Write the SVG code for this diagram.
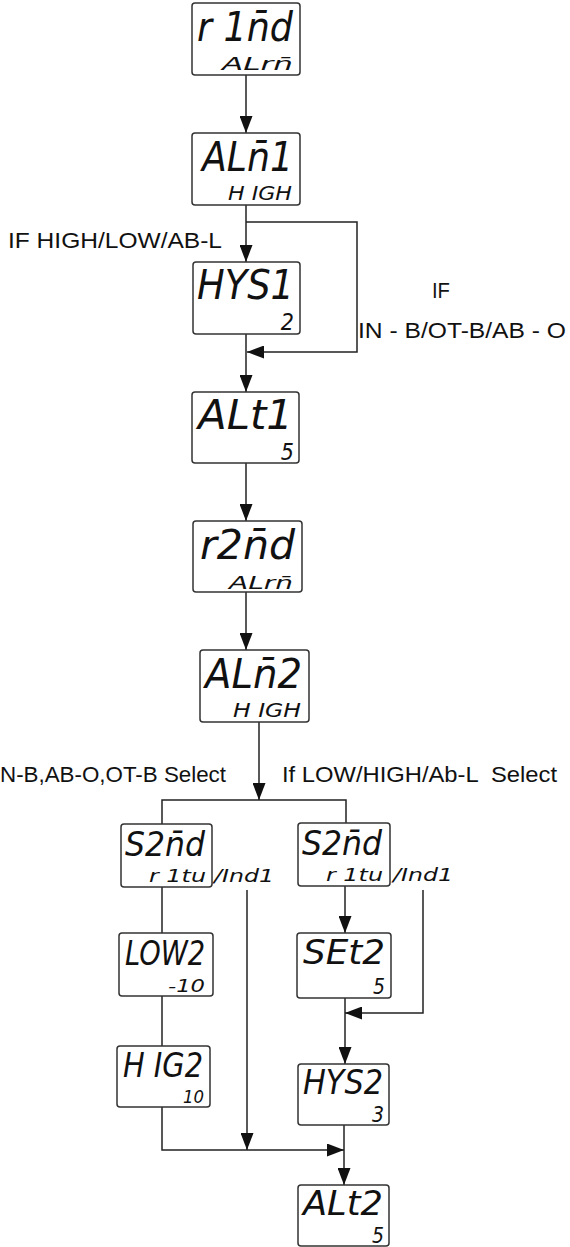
<svg xmlns="http://www.w3.org/2000/svg" width="570" height="1247" viewBox="0 0 570 1247">
<style>
.box{fill:#fff;stroke:#333;stroke-width:1.5}
.ln{fill:none;stroke:#222;stroke-width:1.5}
.d{font-family:"DejaVu Sans ExtraLight","DejaVu Sans Condensed","DejaVu Sans",sans-serif;font-style:italic;font-weight:300;fill:#111}
.lbl{font-family:"Liberation Sans",Arial,sans-serif;font-size:22px;fill:#111}
</style>
<defs>
<marker id="ah" viewBox="0 0 17 13" refX="17" refY="6.5" markerWidth="17" markerHeight="13" markerUnits="userSpaceOnUse" orient="auto">
<path d="M0,0 L17,6.5 L0,13 z" fill="#111"/>
</marker>
</defs>
<g id="connectors">
<line class="ln" x1="246" y1="75" x2="246" y2="133" marker-end="url(#ah)"/>
<line class="ln" x1="246" y1="205" x2="246" y2="262" marker-end="url(#ah)"/>
<polyline class="ln" points="246,222 357,222 357,352 247,352" marker-end="url(#ah)"/>
<line class="ln" x1="246" y1="334" x2="246" y2="392" marker-end="url(#ah)"/>
<line class="ln" x1="246" y1="463" x2="246" y2="521" marker-end="url(#ah)"/>
<line class="ln" x1="246" y1="592" x2="246" y2="650" marker-end="url(#ah)"/>
<line class="ln" x1="259" y1="722" x2="259" y2="800" marker-end="url(#ah)"/>
<polyline class="ln" points="162,824 162,800 346,800 346,823"/>
<line class="ln" x1="162" y1="887" x2="162" y2="933"/>
<line class="ln" x1="247" y1="890" x2="247" y2="1150" marker-end="url(#ah)"/>
<line class="ln" x1="162" y1="996" x2="162" y2="1046"/>
<polyline class="ln" points="162,1107 162,1150 344,1150" marker-end="url(#ah)"/>
<line class="ln" x1="345" y1="886" x2="345" y2="933" marker-end="url(#ah)"/>
<polyline class="ln" points="423,890 423,1013 345,1013" marker-end="url(#ah)"/>
<line class="ln" x1="345" y1="998" x2="345" y2="1064" marker-end="url(#ah)"/>
<line class="ln" x1="344" y1="1125" x2="344" y2="1185" marker-end="url(#ah)"/>
</g>
<g id="labels">
<text class="lbl" x="8" y="248" textLength="214" lengthAdjust="spacingAndGlyphs">IF HIGH/LOW/AB-L</text>
<text class="lbl" x="432" y="298" textLength="18" lengthAdjust="spacingAndGlyphs">IF</text>
<text class="lbl" x="358" y="338" textLength="208" lengthAdjust="spacingAndGlyphs">IN - B/OT-B/AB - O</text>
<text class="lbl" x="0" y="782" textLength="226" lengthAdjust="spacingAndGlyphs">N-B,AB-O,OT-B Select</text>
<text class="lbl" x="282" y="782" textLength="275" lengthAdjust="spacingAndGlyphs" xml:space="preserve">If LOW/HIGH/Ab-L  Select</text>
</g>
<g id="r1nd">
<rect class="box" x="192" y="3" width="108" height="72" rx="3"/>
<text class="d" x="197" y="41" font-size="40" textLength="96" lengthAdjust="spacingAndGlyphs">r 1n̄d</text>
<text class="d" x="222" y="70" font-size="17" textLength="71" lengthAdjust="spacingAndGlyphs">ALrn̄</text>
</g>
<g id="aln1">
<rect class="box" x="192" y="133" width="108" height="72" rx="3"/>
<text class="d" x="202" y="171" font-size="40" textLength="91" lengthAdjust="spacingAndGlyphs">ALn̄1</text>
<text class="d" x="228" y="200" font-size="20" textLength="64" lengthAdjust="spacingAndGlyphs">H IGH</text>
</g>
<g id="hys1">
<rect class="box" x="193" y="262" width="107" height="72" rx="3"/>
<text class="d" x="197" y="299" font-size="40" textLength="97" lengthAdjust="spacingAndGlyphs">HYS1</text>
<text class="d" x="294" y="330" font-size="23" text-anchor="end">2</text>
</g>
<g id="alt1">
<rect class="box" x="192" y="392" width="107" height="71" rx="3"/>
<text class="d" x="198" y="429" font-size="40" textLength="95" lengthAdjust="spacingAndGlyphs">ALt1</text>
<text class="d" x="294" y="460" font-size="23" text-anchor="end">5</text>
</g>
<g id="r2nd">
<rect class="box" x="193" y="521" width="109" height="71" rx="3"/>
<text class="d" x="200" y="559" font-size="40" textLength="95" lengthAdjust="spacingAndGlyphs">r2n̄d</text>
<text class="d" x="229" y="589" font-size="17" textLength="64" lengthAdjust="spacingAndGlyphs">ALrn̄</text>
</g>
<g id="aln2">
<rect class="box" x="200" y="650" width="109" height="72" rx="3"/>
<text class="d" x="205" y="688" font-size="40" textLength="97" lengthAdjust="spacingAndGlyphs">ALn̄2</text>
<text class="d" x="233" y="717" font-size="20" textLength="68" lengthAdjust="spacingAndGlyphs">H IGH</text>
</g>
<g id="s2nd-left">
<rect class="box" x="121" y="824" width="91" height="63" rx="3"/>
<text class="d" x="125" y="856" font-size="34" textLength="80" lengthAdjust="spacingAndGlyphs">S2n̄d</text>
<text class="d" x="149" y="882" font-size="17" textLength="57" lengthAdjust="spacingAndGlyphs">r 1tu</text>
<text class="d" x="214" y="882" font-size="17" textLength="60" lengthAdjust="spacingAndGlyphs">/Ind1</text>
</g>
<g id="s2nd-right">
<rect class="box" x="298" y="823" width="92" height="63" rx="3"/>
<text class="d" x="302" y="855" font-size="34" textLength="80" lengthAdjust="spacingAndGlyphs">S2n̄d</text>
<text class="d" x="326" y="881" font-size="17" textLength="57" lengthAdjust="spacingAndGlyphs">r 1tu</text>
<text class="d" x="393" y="881" font-size="17" textLength="60" lengthAdjust="spacingAndGlyphs">/Ind1</text>
</g>
<g id="low2">
<rect class="box" x="119" y="933" width="94" height="63" rx="3"/>
<text class="d" x="125" y="965" font-size="34" textLength="80" lengthAdjust="spacingAndGlyphs">LOW2</text>
<text class="d" x="168" y="992" font-size="18" textLength="37" lengthAdjust="spacingAndGlyphs">-10</text>
</g>
<g id="set2">
<rect class="box" x="297" y="933" width="94" height="65" rx="3"/>
<text class="d" x="303" y="964" font-size="34" textLength="82" lengthAdjust="spacingAndGlyphs">SEt2</text>
<text class="d" x="385" y="994" font-size="21" text-anchor="end">5</text>
</g>
<g id="hig2">
<rect class="box" x="117" y="1046" width="93" height="61" rx="3"/>
<text class="d" x="123" y="1077" font-size="34" textLength="80" lengthAdjust="spacingAndGlyphs">H IG2</text>
<text class="d" x="183" y="1103" font-size="18" textLength="21" lengthAdjust="spacingAndGlyphs">10</text>
</g>
<g id="hys2">
<rect class="box" x="298" y="1064" width="91" height="61" rx="3"/>
<text class="d" x="303" y="1094" font-size="34" textLength="80" lengthAdjust="spacingAndGlyphs">HYS2</text>
<text class="d" x="384" y="1122" font-size="21" text-anchor="end">3</text>
</g>
<g id="alt2">
<rect class="box" x="298" y="1185" width="91" height="61" rx="3"/>
<text class="d" x="303" y="1215" font-size="34" textLength="80" lengthAdjust="spacingAndGlyphs">ALt2</text>
<text class="d" x="384" y="1243" font-size="21" text-anchor="end">5</text>
</g>
</svg>
